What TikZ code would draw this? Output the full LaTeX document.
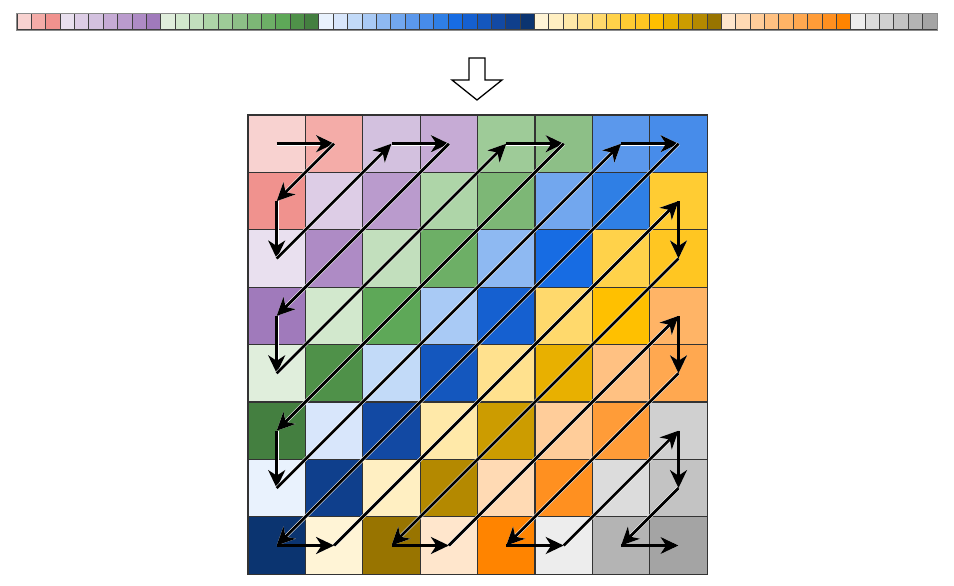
\documentclass[tikz,border=0pt]{standalone}
\usepackage{tikz}
\usetikzlibrary{math,arrows.meta}

\foreach \hex [count=\i from 0] in {F8D2D0, F4ACA8, F0928E,%
	E9E0EF, DDCDE6, D3C1DF, C6ABD5, BA9BCD, AE8BC5, A07ABB,%
	E0EEDC, D2E8CD, C2DFBD, AED5A8, 9ECB98, 8DBF87, 7DB776, 6DAF66, 5EA858, 4F9149, 447F40,%
	E9F2FD, D8E6FB, C2DAF8, A9CAF5, 8EB9F2, 72A7EE, 5B98EC, 478CEA, 2F7FE5, 176CE3, 1560D0, 1457BE, 1249A3, 0F3F8C, 0B3470,%
	FFF4D6, FFEFC2, FFE9A9, FFE18E, FFD96C, FFD24A, FFCC33, FFC622, FFC000, E8B000, CC9C00, B48900, 987400,%
	FFE6CC, FFDAB4, FFCD9A, FFC182, FFB466, FFA850, FF9C38, FF9020, FF8400,%
	EDEDED, DCDCDC, D0D0D0, C3C3C3, B4B4B4, A4A4A4}
	{\xglobal\definecolor{z\i}{HTML}{\hex}}

\tikzset{
	tile/.style={draw=black!80, line width=1.2pt, inner sep=0pt, minimum size=57.4pt},
	chip/.style={draw=black!75, line width=1pt, inner sep=0pt, minimum width=14.375pt, minimum height=16pt},
	zigzag/.style={-{Stealth[length=18pt, width=17pt, inset=5.5pt]}, line width=2.7pt,
		preaction={draw=white, line width=3.8pt}}
}

\begin{document}
\begin{tikzpicture}[x=1pt, y=-1pt]
\useasboundingbox (0,0) rectangle (954,586);

\foreach \n in {0,...,63}
	\node[chip, fill=z\n] (s\n) at ({24.2+14.375*\n}, 22) {};
\draw[black!45, line width=1.5pt] (s0.north west) rectangle (s63.south east);

\draw[line width=1.3pt, fill=white] (469,58) -- (485,58) -- (485,80) -- (502,80) --%
	(477,100) -- (452,80) -- (469,80) -- cycle;

\foreach \r in {0,...,7}
	\foreach \c in {0,...,7} {
		\tikzmath{integer \dg, \lo, \n;
			\dg = \r + \c;
			if \dg < 8 then {\n = \dg*(\dg+1)/2;} else {\n = 64-(15-\dg)*(16-\dg)/2;};
			\lo = max(0, \dg-7);
			if mod(\dg,2) == 0 then {\n = \n+\c-\lo;} else {\n = \n+\r-\lo;};
		}
		\node[tile, fill=z\n] (c\r\c) at ({276.7+57.4*\c}, {143.7+57.4*\r}) {};
	}

\foreach \a/\b in {00/01, 01/10, 10/20, 20/02, 02/03, 03/30, 30/40, 40/04, 04/05,%
	05/50, 50/60, 60/06, 06/07, 07/70, 70/71, 71/17, 17/27, 27/72, 72/73, 73/37,%
	37/47, 47/74, 74/75, 75/57, 57/67, 67/76, 76/77}
	\draw[zigzag] (c\a.center) -- (c\b.center);
\end{tikzpicture}
\end{document}
